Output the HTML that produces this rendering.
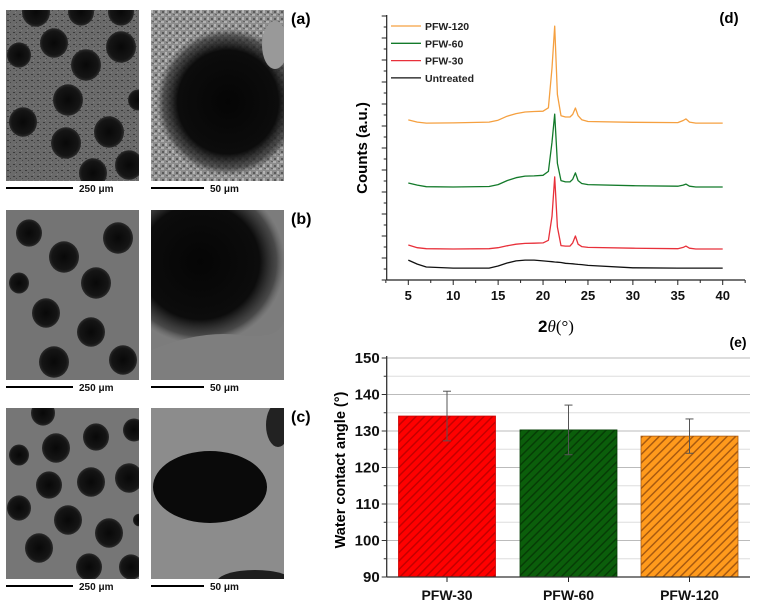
<!DOCTYPE html>
<html><head><meta charset="utf-8"><style>
html,body{margin:0;padding:0;background:#fff;}
svg{display:block;font-family:"Liberation Sans",Arial,sans-serif;}
</style></head><body>
<svg id="fig" width="760" height="609" viewBox="0 0 760 609" xmlns="http://www.w3.org/2000/svg">
<defs>
<radialGradient id="hole" cx="50%" cy="50%" r="50%"><stop offset="0" stop-color="#080808"/><stop offset="0.8" stop-color="#151515"/><stop offset="1" stop-color="#2a2a2a"/></radialGradient>
<radialGradient id="bighole" cx="50%" cy="50%" r="50%"><stop offset="0" stop-color="#050505"/><stop offset="0.7" stop-color="#0c0c0c"/><stop offset="0.9" stop-color="#333" stop-opacity="0.7"/><stop offset="1" stop-color="#555" stop-opacity="0"/></radialGradient>
<pattern id="speck" width="6" height="6" patternUnits="userSpaceOnUse"><rect width="6" height="6" fill="#6a6a6a"/><rect x="1" y="2" width="2" height="1" fill="#3a3a3a"/><rect x="4" y="4" width="1" height="1" fill="#444"/><rect x="3" y="0" width="1" height="1" fill="#808080"/></pattern>
<pattern id="grain" width="7" height="7" patternUnits="userSpaceOnUse"><rect width="7" height="7" fill="#8c8c8c"/><rect x="0" y="0" width="3" height="2" fill="#b0b0b0"/><rect x="4" y="3" width="2" height="3" fill="#b4b4b4"/><rect x="1" y="4" width="2" height="2" fill="#5a5a5a"/><rect x="5" y="0" width="2" height="1" fill="#666"/></pattern>
<pattern id="hatch-red" width="6" height="6" patternUnits="userSpaceOnUse" patternTransform="rotate(45)"><rect width="6" height="6" fill="#ff0000"/><rect width="1.5" height="6" fill="#c40000"/></pattern>
<pattern id="hatch-green" width="6" height="6" patternUnits="userSpaceOnUse" patternTransform="rotate(45)"><rect width="6" height="6" fill="#0b5e0b"/><rect width="1.5" height="6" fill="#063d06"/></pattern>
<pattern id="hatch-orange" width="6" height="6" patternUnits="userSpaceOnUse" patternTransform="rotate(45)"><rect width="6" height="6" fill="#ff9a1c"/><rect width="1.5" height="6" fill="#a85a10"/></pattern>
<clipPath id="cA1"><rect x="6" y="10" width="133" height="171"/></clipPath>
<clipPath id="cA2"><rect x="151" y="10" width="133" height="171"/></clipPath>
<clipPath id="cB1"><rect x="6" y="210" width="133" height="170"/></clipPath>
<clipPath id="cB2"><rect x="151" y="210" width="133" height="170"/></clipPath>
<clipPath id="cC1"><rect x="6" y="408" width="133" height="171"/></clipPath>
<clipPath id="cC2"><rect x="151" y="408" width="133" height="171"/></clipPath>
</defs>

<g>
  <g clip-path="url(#cA1)">
    <rect x="6" y="10" width="133" height="171" fill="url(#speck)"/>
    <g id="holesA"></g>
  </g>
  <g clip-path="url(#cA2)">
    <rect x="151" y="10" width="133" height="171" fill="url(#grain)"/>
    <ellipse cx="228" cy="102" rx="72" ry="74" fill="url(#bighole)"/>
    <ellipse cx="275" cy="45" rx="13" ry="24" fill="#999"/>
  </g>
  <g clip-path="url(#cB1)">
    <rect x="6" y="210" width="133" height="170" fill="#747474"/>
    <g id="holesB"></g>
  </g>
  <g clip-path="url(#cB2)">
    <rect x="151" y="210" width="133" height="170" fill="#7c7c7c"/>
    <ellipse cx="200" cy="262" rx="85" ry="82" fill="url(#bighole)"/>
    <path d="M151,350 Q200,330 240,335 T284,320 L284,380 L151,380 Z" fill="#7e7e7e"/>
  </g>
  <g clip-path="url(#cC1)">
    <rect x="6" y="408" width="133" height="171" fill="#767676"/>
    <g id="holesC"></g>
  </g>
  <g clip-path="url(#cC2)">
    <rect x="151" y="408" width="133" height="171" fill="#8c8c8c"/>
    <ellipse cx="210" cy="487" rx="57" ry="36" fill="#0a0a0a"/>
    <ellipse cx="278" cy="425" rx="12" ry="22" fill="#222"/>
    <ellipse cx="255" cy="582" rx="38" ry="12" fill="#1e1e1e"/>
  </g>

  <g font-size="10" font-weight="bold" fill="#111">
    <rect x="6" y="187" width="67" height="2" fill="#000"/><text x="79" y="192">250 μm</text>
    <rect x="151" y="187" width="53" height="2" fill="#000"/><text x="210" y="192">50 μm</text>
    <rect x="6" y="386" width="67" height="2" fill="#000"/><text x="79" y="391">250 μm</text>
    <rect x="151" y="386" width="53" height="2" fill="#000"/><text x="210" y="391">50 μm</text>
    <rect x="6" y="585" width="67" height="2" fill="#000"/><text x="79" y="590">250 μm</text>
    <rect x="151" y="585" width="53" height="2" fill="#000"/><text x="210" y="590">50 μm</text>
  </g>
  <g font-size="16" font-weight="bold" fill="#000">
    <text x="291" y="24">(a)</text>
    <text x="291" y="224">(b)</text>
    <text x="291" y="422">(c)</text>
  </g>
</g>

<g id="xrd"></g>
<g id="bars"></g>
</svg>
<script>
// ---- XRD data ----
const xrdAngles = [5,6,7,10,14,15,16,17,18,19,20,20.6,21,21.3,21.6,22,22.5,23,23.3,23.6,23.9,24.3,25,30,35,35.6,35.9,36.3,37,40];
const xrdUntreated = [7.5,6,4.9,4.5,4.5,5.3,6.4,7.2,7.5,7.5,7.2,7,6.9,6.8,6.7,6.6,6.3,6.2,6.1,6,5.9,5.8,5.5,4.6,4.5,4.5,4.5,4.5,4.5,4.5];
const xrdPFW30 = [13.2,12.2,11.8,11.7,11.8,12.2,12.9,13.5,13.8,13.9,14,15,24,38.9,20,13,12.8,12.8,14,16.6,13.5,12.6,12.3,12,11.8,12.3,12.8,12,11.7,11.7];
const xrdPFW60 = [36.6,35.8,35.2,35.1,35.3,36,37.5,38.6,39.2,39.3,39.5,41,52,62.6,44,37.5,37,37,38,40.4,37.5,36.4,36,35.6,35.4,35.8,36.2,35.4,35.1,35.1];
const xrdPFW120 = [60.4,59.6,59.2,59.3,59.6,60.3,61.8,62.8,63.4,63.6,63.7,65,80,95.8,70,62,61.5,61.5,62.5,64.9,62,60.5,59.8,59.5,59.4,60.2,60.8,59.6,59.2,59.2];
const xrdTicks = [5,10,15,20,25,30,35,40];
// ---- contact angle data ----
const samples = ["PFW-30","PFW-60","PFW-120"];
const angleMeans = [134.1,130.3,128.6];
const angleErrors = [6.8,6.8,4.7];
const angleTicks = [90,100,110,120,130,140,150];

const NS="http://www.w3.org/2000/svg";
function mk(tag,attrs,parent){const e=document.createElementNS(NS,tag);for(const k in attrs)e.setAttribute(k,attrs[k]);parent.appendChild(e);return e;}

const holes={holesA:[[30,12,14],[75,12,13],[115,12,13],[48,43,14],[115,47,15],[80,65,15],[13,55,12],[62,100,15],[132,100,10],[17,122,14],[103,132,15],[60,143,15],[123,165,14],[87,173,14]],
holesB:[[23,233,13],[58,257,15],[112,238,15],[90,283,15],[13,283,10],[40,313,14],[85,332,14],[48,362,15],[117,360,14]],
holesC:[[37,413,12],[128,430,11],[90,437,13],[50,448,14],[13,455,10],[85,482,14],[123,478,14],[43,485,13],[13,508,12],[62,520,14],[103,533,14],[33,548,14],[83,567,13],[125,567,12],[133,520,6]]};
for(const id in holes){const g=document.getElementById(id);holes[id].forEach(h=>mk('ellipse',{cx:h[0]+6,cy:h[1],rx:h[2],ry:h[2]*1.05,fill:'url(#hole)'},g));}

const xg=document.getElementById('xrd');
const xS=v=>408.3+(v-5)*8.983;
const yS=v=>280-v*2.65;
const axL=386.7, axB=280, axT=15, axR=745;
let ln=mk('line',{x1:axL,y1:axT,x2:axL,y2:axB,stroke:'#222','stroke-width':1.2},xg);


ln=mk('line',{x1:axL,y1:axB,x2:axR,y2:axB,stroke:'#222','stroke-width':1.2},xg);


for(let y=axB,i=0;y>=axT;y-=11,i++){mk('line',{x1:axL-(i%2?3:5),y1:y,x2:axL,y2:y,stroke:'#222','stroke-width':1},xg);}
for(let v=2.5;v<=42.5;v+=2.5){const major=(v%5===0);mk('line',{x1:xS(v),y1:axB,x2:xS(v),y2:axB+(major?5:3),stroke:'#222','stroke-width':1},xg);}
xrdTicks.forEach(t=>{const e=mk('text',{x:xS(t),y:300,'text-anchor':'middle','font-size':13,'font-weight':'bold',fill:'#111'},xg);e.textContent=t;

});
const series=[["Untreated",xrdUntreated,"#111"],["PFW-30",xrdPFW30,"#e8303a"],["PFW-60",xrdPFW60,"#137a2a"],["PFW-120",xrdPFW120,"#f5a040"]];
series.forEach(s=>{const d=xrdAngles.map((a,i)=>(i?'L':'M')+xS(a).toFixed(1)+','+yS(s[1][i]).toFixed(1)).join(' ');
const p=mk('path',{d:d,fill:'none',stroke:s[2],'stroke-width':1.3,'stroke-linejoin':'round'},xg);

});
const legendOrder=[["PFW-120","#f5a040"],["PFW-60","#137a2a"],["PFW-30","#e8303a"],["Untreated","#111"]];
legendOrder.forEach((l,i)=>{const y=26+i*17.3;mk('line',{x1:391,y1:y,x2:421,y2:y,stroke:l[1],'stroke-width':1.3},xg);
const t=mk('text',{x:425,y:y+4,'font-size':10.5,'font-weight':'bold',fill:'#222'},xg);t.textContent=l[0];

});
let t=mk('text',{x:729,y:23,'font-size':15,'font-weight':'bold','text-anchor':'middle'},xg);t.textContent='(d)';


t=mk('text',{x:0,y:0,'font-size':15,'font-weight':'bold','text-anchor':'middle',transform:'translate(367,148) rotate(-90)'},xg);t.textContent='Counts (a.u.)';


t=mk('text',{x:556,y:332,'font-size':17,'text-anchor':'middle'},xg);
t.innerHTML='<tspan font-weight="bold">2</tspan><tspan font-family="Liberation Serif,serif" font-style="italic">θ</tspan><tspan font-family="Liberation Serif,serif">(°)</tspan>';



const bg=document.getElementById('bars');
const bY=v=>577-(v-90)*(219/60);
const bL=386.7,bR=750;
for(let v=95;v<=150;v+=5){mk('line',{x1:bL,y1:bY(v),x2:bR,y2:bY(v),stroke:v%10===0?'#bbb':'#ddd','stroke-width':1},bg);}
const bw=97, bcs=[447,568.5,689.5], fills=['url(#hatch-red)','url(#hatch-green)','url(#hatch-orange)'],strokes=['#c00','#063d06','#a85a10'];
samples.forEach((s,i)=>{const cx=bcs[i];
const r=mk('rect',{x:cx-bw/2,y:bY(angleMeans[i]),width:bw,height:bY(90)-bY(angleMeans[i]),fill:fills[i],stroke:strokes[i],'stroke-width':0.8},bg);


const top=bY(angleMeans[i]+angleErrors[i]),bot=bY(angleMeans[i]-angleErrors[i]);
mk('line',{x1:cx,y1:top,x2:cx,y2:bot,stroke:'#555','stroke-width':1},bg);
mk('line',{x1:cx-4,y1:top,x2:cx+4,y2:top,stroke:'#555','stroke-width':1},bg);
mk('line',{x1:cx-4,y1:bot,x2:cx+4,y2:bot,stroke:'#555','stroke-width':1},bg);
mk('line',{x1:cx,y1:577,x2:cx,y2:582,stroke:'#222','stroke-width':1},bg);
const tl=mk('text',{x:cx,y:600,'text-anchor':'middle','font-size':14,'font-weight':'bold',fill:'#111'},bg);tl.textContent=s;

});
mk('line',{x1:bL,y1:bY(150)-2,x2:bL,y2:577,stroke:'#333','stroke-width':1.3},bg);
mk('line',{x1:bL,y1:577,x2:bR,y2:577,stroke:'#333','stroke-width':1.3},bg);
for(let v=90;v<=150;v+=5){mk('line',{x1:bL-(v%10===0?5:3),y1:bY(v),x2:bL,y2:bY(v),stroke:'#333','stroke-width':1},bg);}
angleTicks.forEach(v=>{const e=mk('text',{x:bL-7,y:bY(v)+5,'text-anchor':'end','font-size':15,'font-weight':'bold',fill:'#111'},bg);e.textContent=v;

});
t=mk('text',{x:0,y:0,'font-size':14.5,'font-weight':'bold','text-anchor':'middle',transform:'translate(345,470) rotate(-90)'},bg);t.textContent='Water contact angle (°)';


t=mk('text',{x:738,y:347,'font-size':14,'font-weight':'bold','text-anchor':'middle'},bg);t.textContent='(e)';


</script>
</body></html>
